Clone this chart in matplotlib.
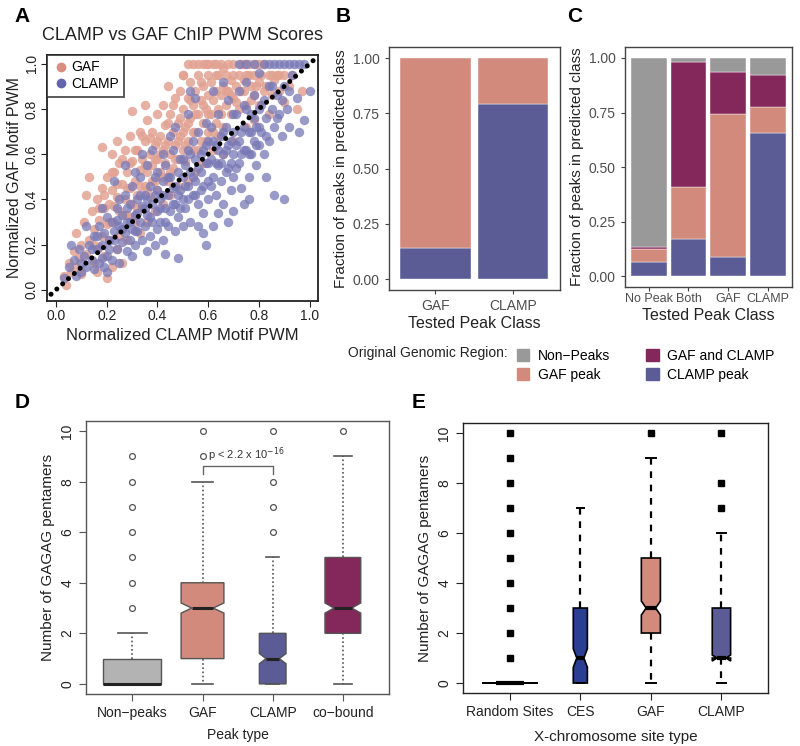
import matplotlib
matplotlib.use("Agg")
import matplotlib.pyplot as plt
import numpy as np
from matplotlib.patches import Patch

plt.rcParams['font.family'] = ['Liberation Sans', 'DejaVu Sans']

# colours
gaf_col = '#D28A7C'
clamp_col = '#5B5B95'
both_col = '#84275A'
grey_col = '#999999'

# ---------------- data ----------------
# panel A (approximate)
gaf_pts = [
    (0.03, 0.06), (0.05, 0.12), (0.06, 0.08), (0.07, 0.17), (0.08, 0.10), (0.09, 0.14), (0.10, 0.20),
    (0.04, 0.02), (0.08, 0.25), (0.10, 0.07),
    (0.11, 0.30), (0.12, 0.16), (0.13, 0.22), (0.14, 0.35), (0.15, 0.12), (0.15, 0.27), (0.16, 0.40),
    (0.17, 0.19), (0.17, 0.31), (0.18, 0.24), (0.18, 0.45), (0.19, 0.15), (0.19, 0.36), (0.20, 0.29),
    (0.20, 0.50), (0.13, 0.50), (0.12, 0.42), (0.18, 0.63), (0.16, 0.08), (0.20, 0.05),
    (0.21, 0.38), (0.21, 0.22), (0.22, 0.44), (0.22, 0.60), (0.23, 0.30), (0.23, 0.52), (0.24, 0.18),
    (0.24, 0.41), (0.25, 0.35), (0.25, 0.56), (0.26, 0.47), (0.26, 0.27), (0.27, 0.62), (0.27, 0.40),
    (0.28, 0.33), (0.28, 0.52), (0.29, 0.45), (0.29, 0.68), (0.30, 0.38), (0.30, 0.57), (0.24, 0.66),
    (0.26, 0.12), (0.28, 0.22), (0.30, 0.79), (0.22, 0.10),
    (0.31, 0.48), (0.31, 0.30), (0.32, 0.62), (0.32, 0.42), (0.33, 0.53), (0.33, 0.70), (0.34, 0.36),
    (0.34, 0.58), (0.35, 0.46), (0.35, 0.66), (0.36, 0.52), (0.36, 0.75), (0.37, 0.41), (0.37, 0.60),
    (0.38, 0.55), (0.38, 0.70), (0.39, 0.48), (0.39, 0.64), (0.40, 0.58), (0.40, 0.78), (0.33, 0.25),
    (0.36, 0.30), (0.39, 0.35), (0.35, 0.82), (0.40, 0.44),
    (0.41, 0.52), (0.41, 0.68), (0.42, 0.62), (0.42, 0.82), (0.43, 0.56), (0.43, 0.73), (0.44, 0.48),
    (0.44, 0.66), (0.45, 0.60), (0.45, 0.78), (0.46, 0.70), (0.46, 0.54), (0.47, 0.64), (0.47, 0.85),
    (0.48, 0.58), (0.48, 0.74), (0.49, 0.68), (0.49, 0.88), (0.50, 0.62), (0.50, 0.80), (0.42, 0.38),
    (0.45, 0.42), (0.48, 0.46), (0.44, 0.90), (0.50, 0.95),
    (0.51, 0.72), (0.51, 0.57), (0.52, 0.85), (0.52, 0.66), (0.53, 0.76), (0.53, 0.92), (0.54, 0.62),
    (0.54, 0.82), (0.55, 0.70), (0.55, 0.88), (0.56, 0.78), (0.56, 0.95), (0.57, 0.66), (0.57, 0.84),
    (0.58, 0.74), (0.58, 0.90), (0.59, 0.80), (0.59, 1.00), (0.60, 0.70), (0.60, 0.86), (0.55, 0.52),
    (0.58, 0.56), (0.60, 0.95), (0.52, 0.48), (0.56, 1.00),
    (0.61, 0.78), (0.61, 0.92), (0.62, 0.84), (0.62, 1.00), (0.63, 0.74), (0.63, 0.88), (0.64, 0.95),
    (0.64, 0.80), (0.65, 0.86), (0.65, 1.00), (0.66, 0.90), (0.66, 0.72), (0.67, 0.82), (0.67, 0.95),
    (0.68, 0.88), (0.68, 1.00), (0.69, 0.78), (0.69, 0.93), (0.70, 0.85), (0.70, 1.00), (0.62, 0.62),
    (0.66, 0.60), (0.70, 0.66), (0.64, 0.68),
    (0.71, 0.90), (0.72, 0.95), (0.72, 0.80), (0.73, 1.00), (0.74, 0.88), (0.74, 0.93), (0.75, 0.82),
    (0.76, 0.95), (0.76, 1.00), (0.77, 0.90), (0.78, 0.86), (0.78, 0.95), (0.79, 1.00), (0.80, 0.92),
    (0.80, 0.82), (0.75, 0.72), (0.78, 0.75),
    (0.81, 0.95), (0.82, 1.00), (0.83, 0.90), (0.84, 0.95), (0.85, 0.86), (0.86, 0.93), (0.87, 0.95),
    (0.88, 0.88), (0.90, 0.95), (0.92, 0.90), (0.93, 0.95), (0.95, 0.80), (0.97, 0.88), (0.84, 0.78),
    (0.90, 0.83), (0.52, 1.00), (0.54, 1.00), (0.58, 1.00), (0.60, 1.00), (0.63, 1.00), (0.50, 0.95),
    (0.15, 0.20), (0.17, 0.36), (0.19, 0.42), (0.21, 0.30), (0.22, 0.52), (0.23, 0.37), (0.24, 0.47),
    (0.25, 0.24), (0.26, 0.58), (0.27, 0.33), (0.28, 0.45), (0.29, 0.56), (0.30, 0.32), (0.31, 0.62),
    (0.32, 0.36), (0.33, 0.46), (0.34, 0.68), (0.35, 0.55), (0.36, 0.44), (0.37, 0.67), (0.38, 0.48),
    (0.39, 0.58), (0.40, 0.66), (0.41, 0.60), (0.42, 0.50), (0.43, 0.64), (0.44, 0.74), (0.45, 0.52),
    (0.46, 0.82), (0.47, 0.58), (0.48, 0.66), (0.49, 0.76), (0.50, 0.70), (0.51, 0.64), (0.52, 0.74),
    (0.53, 0.84), (0.54, 0.70), (0.55, 0.78), (0.56, 0.62), (0.57, 0.92), (0.58, 0.82), (0.59, 0.66),
    (0.60, 0.78), (0.62, 0.70), (0.63, 0.95), (0.65, 0.78), (0.67, 0.88), (0.69, 0.86), (0.71, 0.83),
    (0.73, 0.88), (0.75, 0.95), (0.77, 0.84), (0.79, 0.90), (0.82, 0.88), (0.85, 0.95), (0.88, 0.95),
    (0.66, 0.98), (0.70, 0.95), (0.74, 1.00), (0.80, 1.00),
]
clamp_pts = [
    (0.03, 0.05), (0.05, 0.10), (0.07, 0.13), (0.08, 0.06), (0.09, 0.18), (0.10, 0.12), (0.06, 0.20),
    (0.10, 0.08),
    (0.11, 0.15), (0.12, 0.10), (0.13, 0.20), (0.14, 0.13), (0.15, 0.24), (0.15, 0.09), (0.16, 0.18),
    (0.17, 0.12), (0.17, 0.28), (0.18, 0.20), (0.19, 0.10), (0.19, 0.25), (0.20, 0.15), (0.20, 0.32),
    (0.12, 0.28), (0.18, 0.36), (0.20, 0.08),
    (0.21, 0.22), (0.22, 0.30), (0.22, 0.13), (0.23, 0.26), (0.24, 0.36), (0.24, 0.18), (0.25, 0.28),
    (0.25, 0.12), (0.26, 0.33), (0.26, 0.21), (0.27, 0.42), (0.27, 0.25), (0.28, 0.17), (0.28, 0.30),
    (0.29, 0.38), (0.29, 0.22), (0.30, 0.27), (0.30, 0.46), (0.23, 0.48), (0.27, 0.55), (0.30, 0.15),
    (0.25, 0.40),
    (0.31, 0.33), (0.31, 0.20), (0.32, 0.40), (0.32, 0.26), (0.33, 0.30), (0.33, 0.50), (0.34, 0.22),
    (0.34, 0.37), (0.35, 0.42), (0.35, 0.28), (0.36, 0.33), (0.36, 0.55), (0.37, 0.24), (0.37, 0.46),
    (0.38, 0.38), (0.38, 0.30), (0.39, 0.50), (0.39, 0.20), (0.40, 0.35), (0.40, 0.44), (0.34, 0.60),
    (0.38, 0.62), (0.40, 0.27), (0.36, 0.17), (0.31, 0.52),
    (0.41, 0.40), (0.41, 0.30), (0.42, 0.48), (0.42, 0.22), (0.43, 0.36), (0.43, 0.55), (0.44, 0.42),
    (0.44, 0.28), (0.45, 0.50), (0.45, 0.35), (0.46, 0.45), (0.46, 0.62), (0.47, 0.38), (0.47, 0.26),
    (0.48, 0.52), (0.48, 0.32), (0.49, 0.44), (0.49, 0.58), (0.50, 0.40), (0.50, 0.50), (0.45, 0.68),
    (0.50, 0.28), (0.43, 0.16), (0.48, 0.14), (0.47, 0.72), (0.42, 0.60),
    (0.51, 0.55), (0.51, 0.36), (0.52, 0.46), (0.52, 0.62), (0.53, 0.30), (0.53, 0.52), (0.54, 0.42),
    (0.54, 0.66), (0.55, 0.48), (0.55, 0.58), (0.56, 0.38), (0.56, 0.70), (0.57, 0.52), (0.57, 0.44),
    (0.58, 0.62), (0.58, 0.34), (0.59, 0.56), (0.59, 0.74), (0.60, 0.48), (0.60, 0.66), (0.52, 0.78),
    (0.55, 0.85), (0.58, 0.25), (0.60, 0.40), (0.56, 0.28), (0.59, 0.20), (0.53, 0.88),
    (0.61, 0.58), (0.61, 0.72), (0.62, 0.50), (0.62, 0.28), (0.63, 0.64), (0.63, 0.42), (0.64, 0.55),
    (0.64, 0.78), (0.65, 0.48), (0.65, 0.68), (0.66, 0.60), (0.66, 0.38), (0.67, 0.72), (0.67, 0.52),
    (0.68, 0.64), (0.68, 0.84), (0.69, 0.56), (0.69, 0.44), (0.70, 0.70), (0.70, 0.60), (0.62, 0.88),
    (0.66, 0.92), (0.70, 0.35), (0.68, 0.30), (0.64, 0.34), (0.70, 0.50),
    (0.71, 0.78), (0.71, 0.54), (0.72, 0.66), (0.72, 0.88), (0.73, 0.60), (0.73, 0.45), (0.74, 0.72),
    (0.74, 0.82), (0.75, 0.62), (0.75, 0.92), (0.76, 0.70), (0.76, 0.50), (0.77, 0.78), (0.77, 0.60),
    (0.78, 0.86), (0.78, 0.66), (0.79, 0.72), (0.79, 0.55), (0.80, 0.80), (0.80, 0.64), (0.72, 1.00),
    (0.75, 1.00), (0.78, 1.00), (0.80, 0.96), (0.76, 0.40), (0.74, 0.38),
    (0.81, 0.70), (0.82, 0.84), (0.82, 0.60), (0.83, 0.76), (0.84, 0.90), (0.84, 0.66), (0.85, 0.80),
    (0.86, 0.72), (0.86, 1.00), (0.87, 0.86), (0.88, 0.78), (0.88, 1.00), (0.89, 0.68), (0.90, 0.90),
    (0.90, 1.00), (0.91, 0.80), (0.92, 0.72), (0.93, 0.95), (0.94, 1.00), (0.95, 0.85), (0.96, 0.70),
    (1.00, 0.88), (0.98, 0.75), (0.83, 0.50), (0.86, 0.42), (0.90, 0.40), (0.82, 1.00), (0.84, 1.00),
    (0.92, 1.00), (0.96, 1.00), (0.98, 1.00),
    (0.14, 0.18), (0.16, 0.24), (0.18, 0.14), (0.21, 0.18), (0.23, 0.22), (0.24, 0.31), (0.26, 0.27),
    (0.28, 0.36), (0.29, 0.30), (0.31, 0.26), (0.32, 0.34), (0.33, 0.42), (0.35, 0.36), (0.36, 0.40),
    (0.37, 0.32), (0.39, 0.42), (0.40, 0.52), (0.41, 0.36), (0.42, 0.42), (0.43, 0.30), (0.44, 0.50),
    (0.46, 0.38), (0.47, 0.46), (0.48, 0.42), (0.49, 0.36), (0.50, 0.58), (0.51, 0.46), (0.52, 0.40),
    (0.53, 0.60), (0.54, 0.50), (0.55, 0.42), (0.56, 0.54), (0.57, 0.60), (0.58, 0.46), (0.59, 0.64),
    (0.60, 0.56), (0.61, 0.46), (0.62, 0.66), (0.63, 0.56), (0.64, 0.62), (0.65, 0.56), (0.66, 0.70),
    (0.67, 0.62), (0.68, 0.54), (0.69, 0.66), (0.70, 0.78), (0.71, 0.64), (0.72, 0.56), (0.73, 0.70),
    (0.74, 0.62), (0.75, 0.80), (0.76, 0.60), (0.77, 0.70), (0.78, 0.76), (0.79, 0.64), (0.80, 0.72),
    (0.81, 0.82), (0.83, 0.68), (0.85, 0.90), (0.87, 0.76), (0.89, 0.84), (0.92, 0.88),
]
ref_line = [-0.02, 1.03]

# panel B
b_classes = ['GAF', 'CLAMP']
b_clamp = [0.14, 0.79]
b_gaf = [0.86, 0.21]

# panel C (stacked from the bottom: CLAMP peak, GAF peak, GAF and CLAMP, Non-Peaks)
c_classes = ['No Peak', 'Both', 'GAF', 'CLAMP']
c_clamp = [0.065, 0.17, 0.09, 0.655]
c_gaf = [0.06, 0.24, 0.655, 0.12]
c_both = [0.01, 0.57, 0.19, 0.145]
c_non = [0.865, 0.02, 0.065, 0.08]

# panel D boxes
d_labels = ['Non\u2212peaks', 'GAF', 'CLAMP', 'co\u2212bound']
d_q1 = [0, 1, 0, 2]
d_med = [0, 3, 1, 3]
d_q3 = [1, 4, 2, 5]
d_lo = [0, 0, 0, 0]
d_hi = [2, 8, 5, 9]
d_cilo = [0, 2.8, 0.8, 2.8]
d_cihi = [0, 3.2, 1.2, 3.2]
d_fliers = [[3, 4, 5, 6, 7, 8, 9], [9, 10], [6, 7, 8, 10], [10]]
d_widths = [0.83, 0.61, 0.38, 0.51]
d_colors = ['#B3B3B3', gaf_col, clamp_col, both_col]

# panel E boxes
e_labels = ['Random Sites', 'CES', 'GAF', 'CLAMP']
e_q1 = [0, 0, 2, 1]
e_med = [0, 1, 3, 1]
e_q3 = [0, 3, 5, 3]
e_lo = [0, 0, 0, 0]
e_hi = [0, 7, 9, 6]
e_cilo = [0, 0.63, 2.72, 0.88]
e_cihi = [0, 1.37, 3.28, 1.12]
e_fliers = [[1, 2, 3, 4, 5, 6, 7, 8, 9, 10], [], [10], [7, 8, 10]]
e_widths = [0.8, 0.2, 0.27, 0.26]
e_colors = ['#FFFFFF', '#2A3F92', gaf_col, clamp_col]

fig = plt.figure(figsize=(8.0, 7.46), dpi=100)

# ---------------- A ----------------
ax = fig.add_axes([0.059, 0.5965, 0.339, 0.33])
gx, gy = zip(*gaf_pts)
cx, cy = zip(*clamp_pts)
ax.scatter(gx, gy, s=46, color='#E2A292', alpha=0.85, linewidths=0)
ax.scatter(cx, cy, s=46, color='#7878B6', alpha=0.75, linewidths=0)
ax.plot(ref_line, ref_line, color='black', lw=3.6, linestyle=(0, (0.01, 1.55)),
        dash_capstyle='round', zorder=5)
ax.set_xlim(-0.035, 1.035)
ax.set_ylim(-0.05, 1.04)
ax.set_xticks([0, 0.2, 0.4, 0.6, 0.8, 1.0])
ax.set_yticks([0, 0.2, 0.4, 0.6, 0.8, 1.0])
ax.set_xticklabels(['0.0', '0.2', '0.4', '0.6', '0.8', '1.0'])
ax.set_yticklabels(['0.0', '0.2', '0.4', '0.6', '0.8', '1.0'], rotation=90, va='center')
ax.tick_params(labelsize=10, length=4, pad=2, color='#222222', labelcolor='#222222')
for s in ax.spines.values():
    s.set_linewidth(1.3)
    s.set_color('#222222')
ax.set_xlabel('Normalized CLAMP Motif PWM', fontsize=12, color='#222222', labelpad=3)
ax.set_ylabel('Normalized GAF Motif PWM', fontsize=11.5, color='#222222', labelpad=2)
ax.set_title('CLAMP vs GAF ChIP PWM Scores', fontsize=13, color='#222222', pad=11)
h1 = plt.Line2D([], [], marker='o', ls='', color='#D98F80', markersize=6)
h2 = plt.Line2D([], [], marker='o', ls='', color='#6464A8', markersize=6)
leg = ax.legend([h1, h2], ['GAF', 'CLAMP'], loc='upper left', fontsize=10,
                frameon=True, fancybox=False, borderaxespad=0, handletextpad=0.1,
                borderpad=0.4, labelspacing=0.2, handlelength=1.2)
leg.get_frame().set_edgecolor('#222222')
leg.get_frame().set_linewidth(1.3)
leg.set_zorder(6)

# ---------------- B ----------------
def style_gg(a):
    for s in a.spines.values():
        s.set_color('#444444')
        s.set_linewidth(1.0)
    a.tick_params(labelsize=10, length=3, color='#444444', labelcolor='#4D4D4D')
    a.set_ylim(-0.05, 1.05)
    a.set_yticks([0, 0.25, 0.5, 0.75, 1.0])
    a.set_yticklabels(['0.00', '0.25', '0.50', '0.75', '1.00'])
    a.set_ylabel('Fraction of peaks in predicted class', fontsize=11, color='#222222', labelpad=3)
    a.set_xlabel('Tested Peak Class', fontsize=11.5, color='#222222', labelpad=2)

axb = fig.add_axes([0.486, 0.611, 0.214, 0.326])
xb = np.arange(1, len(b_classes) + 1)
axb.bar(xb, b_clamp, width=0.9, color=clamp_col, edgecolor='white', linewidth=0.3)
axb.bar(xb, b_gaf, width=0.9, bottom=b_clamp, color=gaf_col, edgecolor='white', linewidth=0.3)
axb.set_xlim(0.4, 2.6)
axb.set_xticks(xb)
axb.set_xticklabels(b_classes)
style_gg(axb)

# ---------------- C ----------------
axc = fig.add_axes([0.781, 0.615, 0.209, 0.322])
xc = np.arange(1, len(c_classes) + 1)
bottom = np.zeros(len(c_classes))
for vals, col in [(c_clamp, clamp_col), (c_gaf, gaf_col), (c_both, both_col), (c_non, grey_col)]:
    axc.bar(xc, vals, width=0.9, bottom=bottom, color=col, edgecolor='white', linewidth=0.3)
    bottom = bottom + np.array(vals)
axc.set_xlim(0.4, 4.6)
axc.set_xticks(xc)
axc.set_xticklabels(c_classes)
style_gg(axc)
axc.tick_params(axis='x', pad=1, labelsize=9)

fig.text(348 / 800, 1 - 353 / 746, 'Original Genomic Region:', fontsize=10,
         va='center', ha='left', color='#222222')
handles = [Patch(color=grey_col), Patch(color=gaf_col), Patch(color=both_col), Patch(color=clamp_col)]
fig.legend(handles, ['Non\u2212Peaks', 'GAF peak', 'GAF and CLAMP', 'CLAMP peak'],
           loc='upper left', bbox_to_anchor=(510 / 800, 1 - 342 / 746), ncol=2,
           frameon=False, fontsize=10, handlelength=0.9, handleheight=0.9,
           handletextpad=0.6, columnspacing=2.6, labelspacing=0.35, borderpad=0)

# ---------------- D ----------------
def make_stats(labels, q1, med, q3, lo, hi, cilo, cihi, fliers):
    out = []
    for i in range(len(labels)):
        out.append(dict(label=labels[i], q1=q1[i], med=med[i], q3=q3[i], whislo=lo[i],
                        whishi=hi[i], cilo=cilo[i], cihi=cihi[i], fliers=fliers[i]))
    return out

def style_base(a, col):
    for s in a.spines.values():
        s.set_color(col)
        s.set_linewidth(1.0)
    a.set_xlim(0.34, 4.66)
    a.set_ylim(-0.4, 10.4)
    a.set_yticks([0, 2, 4, 6, 8, 10])
    a.set_yticklabels(['0', '2', '4', '6', '8', '10'], rotation=90, va='center')
    a.set_xticks([1, 2, 3, 4])
    a.tick_params(labelsize=10, length=5, color=col, labelcolor='#222222')
    a.set_ylabel('Number of GAGAG pentamers', fontsize=11, color='#222222', labelpad=4)

axd = fig.add_axes([0.1075, 0.0697, 0.379, 0.366])
d_stats = make_stats(d_labels, d_q1, d_med, d_q3, d_lo, d_hi, d_cilo, d_cihi, d_fliers)
dk = '#555555'
common_d = dict(patch_artist=True, manage_ticks=False,
                boxprops=dict(edgecolor=dk, linewidth=1.0),
                whiskerprops=dict(color=dk, linewidth=1.2, linestyle=(0, (1, 1.5))),
                capprops=dict(color=dk, linewidth=1.2),
                medianprops=dict(color='#222222', linewidth=2.2),
                flierprops=dict(marker='o', markerfacecolor='none', markeredgecolor=dk,
                                markersize=4.2, markeredgewidth=0.9))
r1 = axd.bxp(d_stats[:1], positions=[1], widths=d_widths[:1],
             capwidths=[w * 0.5 for w in d_widths[:1]], shownotches=False, **common_d)
r2 = axd.bxp(d_stats[1:], positions=[2, 3, 4], widths=d_widths[1:],
             capwidths=[w * 0.5 for w in d_widths[1:]], shownotches=True, **common_d)
for box, col in zip(r1['boxes'] + r2['boxes'], d_colors):
    box.set_facecolor(col)
style_base(axd, dk)
axd.set_xticklabels(d_labels)
axd.set_xlabel('Peak type', fontsize=10, color='#222222', labelpad=6)
axd.plot([2, 2, 3, 3], [8.3, 8.6, 8.6, 8.3], color='#666666', lw=1.0)
axd.text(2.62, 8.7, 'p < 2.2 x 10$^{-16}$', ha='center', va='bottom', fontsize=8,
         color='#333333')

# ---------------- E ----------------
axe = fig.add_axes([0.579, 0.071, 0.381, 0.362])
e_stats = make_stats(e_labels, e_q1, e_med, e_q3, e_lo, e_hi, e_cilo, e_cihi, e_fliers)
re = axe.bxp(e_stats, positions=[1, 2, 3, 4], widths=e_widths,
             capwidths=[w * 0.5 for w in e_widths], shownotches=True, patch_artist=True,
             manage_ticks=False,
             boxprops=dict(edgecolor='black', linewidth=1.2),
             whiskerprops=dict(color='black', linewidth=1.6, linestyle=(0, (3, 3))),
             capprops=dict(color='black', linewidth=1.4),
             medianprops=dict(color='black', linewidth=3),
             flierprops=dict(marker='s', markerfacecolor='black', markeredgecolor='black',
                             markersize=4))
for box, col in zip(re['boxes'], e_colors):
    box.set_facecolor(col)
style_base(axe, '#222222')
axe.set_xticklabels(e_labels)
axe.set_xlabel('X-chromosome site type', fontsize=11, color='#222222', labelpad=8)

# panel letters
for lab, xp, yp in [('A', 14, 16), ('B', 336, 16), ('C', 567, 16), ('D', 15, 402), ('E', 412, 402)]:
    fig.text(xp / 800, 1 - yp / 746, lab, fontsize=15, fontweight='bold', va='center', ha='left')

fig.savefig('out.png', dpi=100)
